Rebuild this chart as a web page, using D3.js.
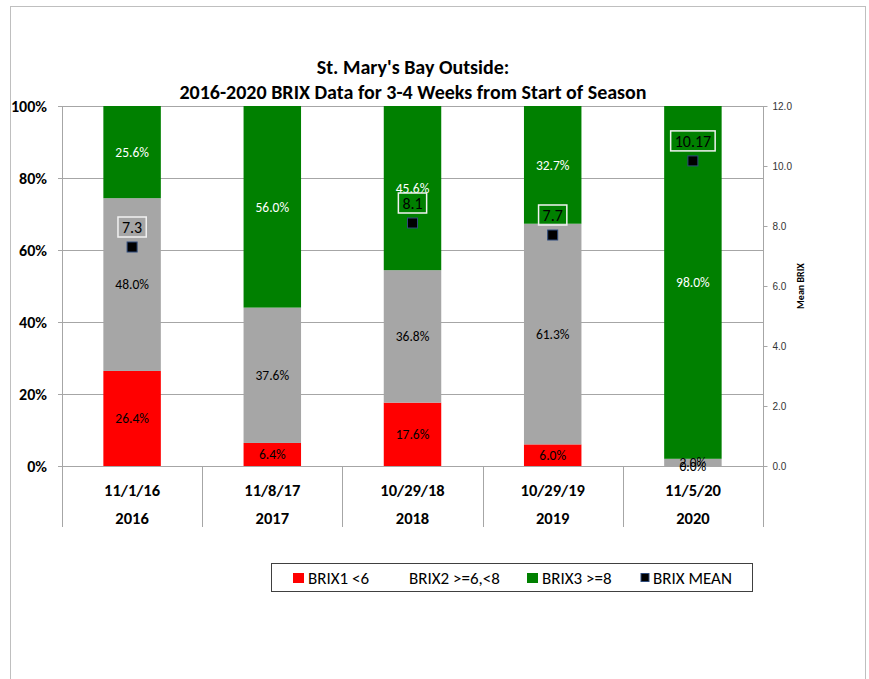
<!DOCTYPE html>
<html>
<head>
<meta charset="utf-8">
<script src="https://cdn.jsdelivr.net/npm/d3@7"></script>
<style>
body { margin: 0; background: #fff; }
svg { font-family: Carlito, Lato, "Open Sans", sans-serif; }
</style>
</head>
<body>
<div id="chart"></div>
<script>
var dates = ["11/1/16", "11/8/17", "10/29/18", "10/29/19", "11/5/20"];
var years = ["2016", "2017", "2018", "2019", "2020"];
var brix1 = [26.4, 6.4, 17.6, 6.0, 0.0];
var brix2 = [48.0, 37.6, 36.8, 61.3, 2.0];
var brix3 = [25.6, 56.0, 45.6, 32.7, 98.0];
var brixMean = [7.3, null, 8.1, 7.7, 10.17];
var meanLabels = ["7.3", "", "8.1", "7.7", "10.17"];
var leftTicks = [0, 20, 40, 60, 80, 100];
var rightTicks = [0, 2, 4, 6, 8, 10, 12];

var width = 869, height = 679;
var margin = {left: 62, right: 106, top: 106, bottom: 213};

var svg = d3.select("#chart").append("svg")
    .attr("width", width)
    .attr("height", height);

// outer frame
svg.append("rect")
    .attr("x", 10.5).attr("y", 6.5)
    .attr("width", 855).attr("height", 700)
    .attr("fill", "none")
    .attr("stroke", "#bfbfbf");

var x = d3.scaleBand()
    .domain(years)
    .range([margin.left, width - margin.right]);

var y = d3.scaleLinear()
    .domain([0, 100])
    .range([height - margin.bottom, margin.top]);

var y2 = d3.scaleLinear()
    .domain([0, 12])
    .range([height - margin.bottom, margin.top]);

var x0 = margin.left, x1 = width - margin.right;

// gridlines
svg.append("g").selectAll("line")
    .data(leftTicks)
    .enter().append("line")
    .attr("x1", x0 - 4).attr("x2", x1)
    .attr("y1", d => y(d) + 0.5).attr("y2", d => y(d) + 0.5)
    .attr("stroke", "#a6a6a6");

// left axis line
svg.append("line")
    .attr("x1", x0 + 0.5).attr("x2", x0 + 0.5)
    .attr("y1", y(100)).attr("y2", y(0) + 61)
    .attr("stroke", "#a6a6a6");

// category separators below axis
svg.append("g").selectAll("line")
    .data(years.slice(1))
    .enter().append("line")
    .attr("x1", d => Math.round(x(d)) + 0.5).attr("x2", d => Math.round(x(d)) + 0.5)
    .attr("y1", y(0)).attr("y2", y(0) + 61)
    .attr("stroke", "#a6a6a6");

// right axis
var rightAxis = d3.axisRight(y2)
    .tickValues(rightTicks)
    .tickFormat(d3.format(".1f"))
    .tickSize(4);
var gR = svg.append("g")
    .attr("transform", "translate(" + (x1 + 0.5) + ",0)")
    .call(rightAxis);
gR.select(".domain").attr("stroke", "#a6a6a6").attr("d", "M0," + y2(12) + "V" + (y2(0) + 61));
gR.selectAll(".tick line").attr("stroke", "#a6a6a6");
gR.selectAll(".tick text")
    .attr("x", 9)
    .style("font-size", "10px")
    .attr("fill", "#333");

svg.append("text")
    .attr("transform", "translate(804," + 286 + ") rotate(-90)")
    .attr("text-anchor", "middle")
    .style("font-size", "10px")
    .style("font-weight", "bold")
    .text("Mean BRIX");

// left tick labels
svg.append("g").selectAll("text")
    .data(leftTicks)
    .enter().append("text")
    .attr("x", 47)
    .attr("y", d => y(d))
    .attr("dy", "0.35em")
    .attr("text-anchor", "end")
    .style("font-size", "16px")
    .style("font-weight", "bold")
    .text(d => d + "%");

// stacked data
var rows = years.map((yr, i) => ({year: yr, b1: brix1[i], b2: brix2[i], b3: brix3[i]}));
var keys = ["b1", "b2", "b3"];
var colors = {b1: "#ff0000", b2: "#a6a6a6", b3: "#008000"};
var textColors = {b1: "#000", b2: "#000", b3: "#fff"};
var stack = d3.stack().keys(keys)(rows);

var barW = x.bandwidth() * 0.41;

var layers = svg.append("g").selectAll("g")
    .data(stack)
    .enter().append("g")
    .attr("fill", d => colors[d.key]);

layers.selectAll("rect")
    .data(d => d)
    .enter().append("rect")
    .attr("x", d => x(d.data.year) + (x.bandwidth() - barW) / 2)
    .attr("y", d => y(d[1]))
    .attr("width", barW)
    .attr("height", d => y(d[0]) - y(d[1]));

// segment labels
stack.forEach(function (layer) {
    svg.append("g").selectAll("text")
        .data(layer)
        .enter().append("text")
        .attr("x", d => x(d.data.year) + x.bandwidth() / 2)
        .attr("y", d => y((d[0] + d[1]) / 2))
        .attr("dy", "0.35em")
        .attr("text-anchor", "middle")
        .style("font-size", "13.5px")
        .attr("fill", textColors[layer.key])
        .text(d => d.data[layer.key].toFixed(1) + "%");
});

// mean markers + labels
var means = years.map((yr, i) => ({year: yr, v: brixMean[i], label: meanLabels[i]}))
    .filter(d => d.v !== null);

var mg = svg.append("g").selectAll("g")
    .data(means)
    .enter().append("g")
    .attr("transform", d => "translate(" + (x(d.year) + x.bandwidth() / 2) + "," + y2(d.v) + ")");

mg.append("rect")
    .attr("x", -5).attr("y", -5)
    .attr("width", 10).attr("height", 10)
    .attr("fill", "#000")
    .attr("stroke", "#2f4b7c")
    .attr("stroke-width", 1);

mg.append("text")
    .attr("y", -20)
    .attr("dy", "0.35em")
    .attr("text-anchor", "middle")
    .style("font-size", "16px")
    .attr("fill", "#000")
    .text(d => d.label);

mg.each(function (d) {
    var g = d3.select(this);
    var bb = g.select("text").node().getBBox();
    g.insert("rect", "text")
        .attr("x", bb.x - 4).attr("y", -30)
        .attr("width", bb.width + 8).attr("height", 20)
        .attr("fill", "none")
        .attr("stroke", "#f2f2f2")
        .attr("stroke-width", 1.5);
});

// category labels
svg.append("g").selectAll("text")
    .data(years)
    .enter().append("text")
    .attr("x", d => x(d) + x.bandwidth() / 2)
    .attr("y", y(0) + 30)
    .attr("text-anchor", "middle")
    .style("font-size", "16.5px")
    .style("font-weight", "bold")
    .text((d, i) => dates[i]);

svg.append("g").selectAll("text")
    .data(years)
    .enter().append("text")
    .attr("x", d => x(d) + x.bandwidth() / 2)
    .attr("y", y(0) + 58)
    .attr("text-anchor", "middle")
    .style("font-size", "16.5px")
    .style("font-weight", "bold")
    .text(d => d);

// title
svg.append("text")
    .attr("x", 413).attr("y", 74)
    .attr("text-anchor", "middle")
    .style("font-size", "20px")
    .style("font-weight", "bold")
    .text("St. Mary's Bay Outside:");
svg.append("text")
    .attr("x", 413).attr("y", 99)
    .attr("text-anchor", "middle")
    .style("font-size", "20px")
    .style("font-weight", "bold")
    .text("2016-2020 BRIX Data for 3-4 Weeks from Start of Season");

// legend
var legendItems = [
    {name: "BRIX1 <6", fill: "#ff0000", stroke: "none", sx: 293, tx: 308},
    {name: "BRIX2 >=6,<8", fill: "none", stroke: "none", sx: 394, tx: 409},
    {name: "BRIX3 >=8", fill: "#008000", stroke: "none", sx: 527, tx: 542},
    {name: "BRIX MEAN", fill: "#000", stroke: "#2f4b7c", sx: 641, tx: 653}
];

svg.append("rect")
    .attr("x", 271.5).attr("y", 563.5)
    .attr("width", 481).attr("height", 28)
    .attr("fill", "#fff")
    .attr("stroke", "#404040");

var leg = svg.append("g").selectAll("g")
    .data(legendItems)
    .enter().append("g");

leg.append("rect")
    .attr("x", d => d.sx).attr("y", d => d.name === "BRIX MEAN" ? 573.5 : 573)
    .attr("width", d => d.name === "BRIX MEAN" ? 8 : 11)
    .attr("height", d => d.name === "BRIX MEAN" ? 8 : 10)
    .attr("fill", d => d.fill)
    .attr("stroke", d => d.stroke);

leg.append("text")
    .attr("x", d => d.tx).attr("y", 578)
    .attr("dy", "0.35em")
    .style("font-size", "17px")
    .text(d => d.name);
</script>
</body>
</html>
